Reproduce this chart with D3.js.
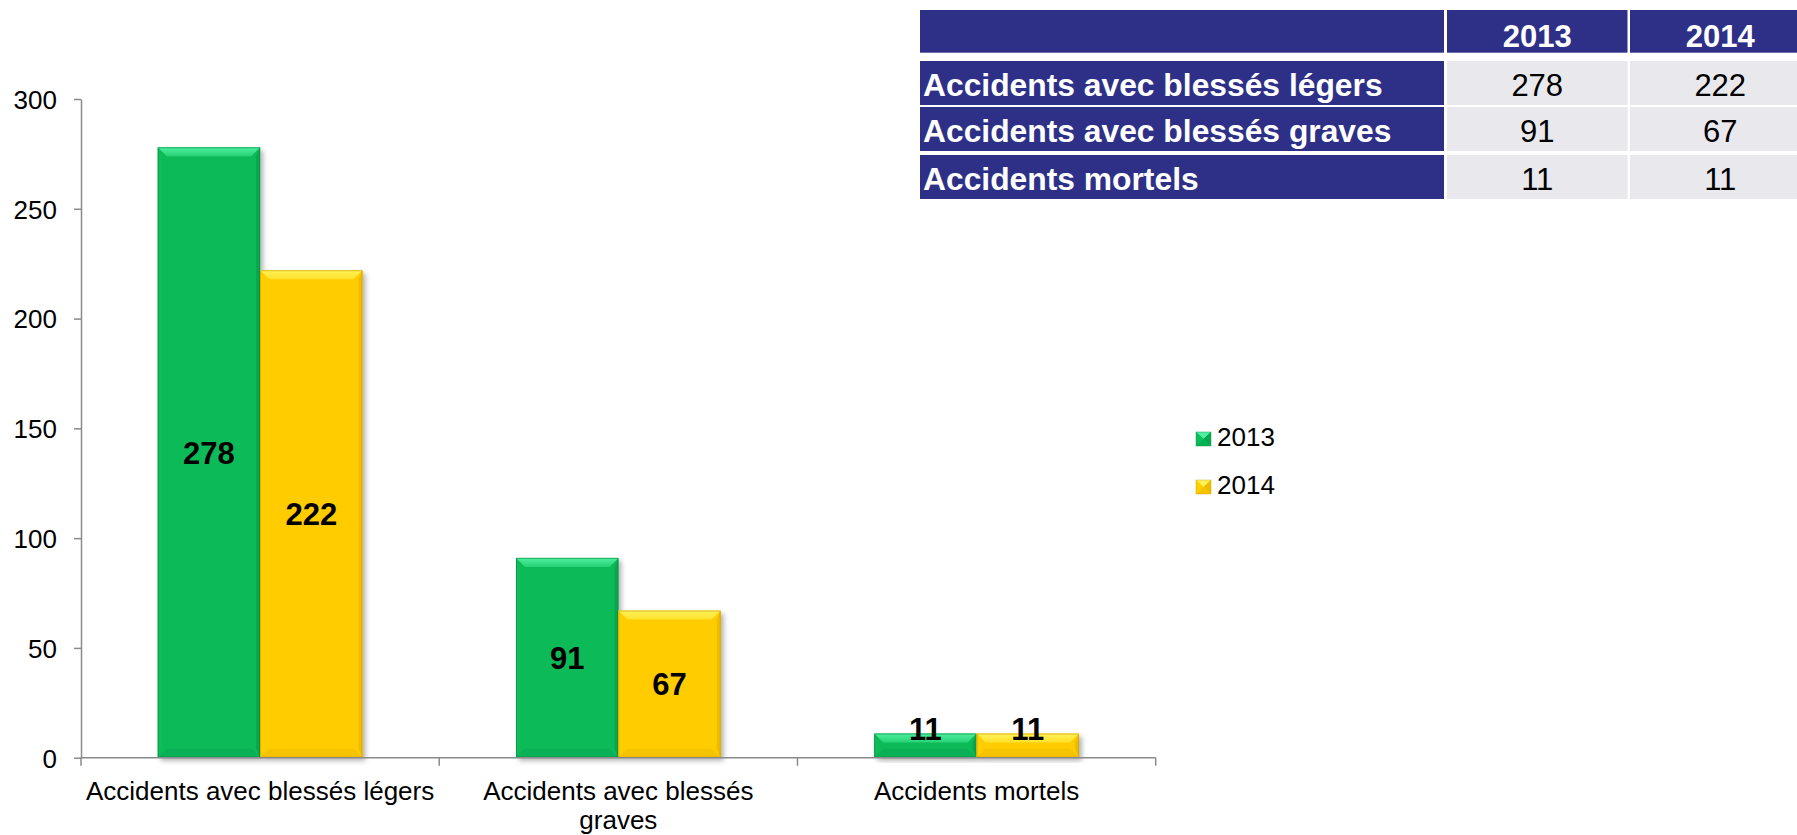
<!DOCTYPE html>
<html>
<head>
<meta charset="utf-8">
<script src="https://cdn.jsdelivr.net/npm/d3@7"></script>
<style>
  body { margin: 0; background: #ffffff; }
  svg { display: block; font-family: "Liberation Sans", Arial, sans-serif; }
</style>
</head>
<body>
<div id="chart"></div>
<script>
const categories = ["Accidents avec blessés légers", "Accidents avec blessés graves", "Accidents mortels"];
const categoryLines = [["Accidents avec blessés légers"], ["Accidents avec blessés", "graves"], ["Accidents mortels"]];
const years = ["2013", "2014"];
const values2013 = [278, 91, 11];
const values2014 = [222, 67, 11];
const yTicks = [0, 50, 100, 150, 200, 250, 300];

const seriesValues = { "2013": values2013, "2014": values2014 };

const palette = {
  "2013": { main: "#0bba58", light: "#4ff0a0", mid: "#26d275", dark: "#07873f", bottom: "#0ab055", left: "#0dbe5b", right: "#0aa650" },
  "2014": { main: "#ffcc00", light: "#fff25a", mid: "#ffe12a", dark: "#c79b00", bottom: "#f5c300", left: "#ffcf00", right: "#efbd00" }
};

const width = 1797;
const height = 835;

const svg = d3.select("#chart")
  .append("svg")
  .attr("width", width)
  .attr("height", height);

const defs = svg.append("defs");

const shadow = defs.append("filter")
  .attr("id", "barShadow")
  .attr("x", "-10%").attr("y", "-10%")
  .attr("width", "130%").attr("height", "130%");
shadow.append("feDropShadow")
  .attr("dx", 3).attr("dy", 3)
  .attr("stdDeviation", 2.5)
  .attr("flood-color", "#000")
  .attr("flood-opacity", 0.3);

years.forEach(yr => {
  const g = defs.append("linearGradient")
    .attr("id", `top-${yr}`)
    .attr("x1", 0).attr("x2", 0).attr("y1", 0).attr("y2", 1);
  g.append("stop").attr("offset", "0%").attr("stop-color", palette[yr].light);
  g.append("stop").attr("offset", "100%").attr("stop-color", palette[yr].mid);
});

// plot area
const plot = { left: 81, right: 1155.7, top: 99, bottom: 757.7 };

const y = d3.scaleLinear()
  .domain([0, 300])
  .range([plot.bottom, plot.top]);

const x0 = d3.scaleBand()
  .domain(categories)
  .range([plot.left, plot.right])
  .padding(0);

const x1 = d3.scaleBand()
  .domain(years)
  .range([0, x0.bandwidth()])
  .paddingInner(0)
  .paddingOuter(0.75);

// y axis
const yAxis = svg.append("g")
  .attr("transform", `translate(${plot.left},0)`)
  .call(d3.axisLeft(y).tickValues(yTicks).tickSize(7).tickPadding(17).tickSizeOuter(0));

yAxis.select(".domain").attr("stroke", "#8a8a8a").attr("stroke-width", 1.5);
yAxis.selectAll(".tick line").attr("stroke", "#8a8a8a").attr("stroke-width", 1.5);
yAxis.selectAll(".tick text")
  .attr("font-size", "26px")
  .attr("font-family", "Liberation Sans, Arial, sans-serif")
  .attr("fill", "#000")
  .attr("dy", "0.36em");

// bars
const rows = [];
categories.forEach((cat, i) => {
  years.forEach(yr => {
    rows.push({ category: cat, year: yr, value: seriesValues[yr][i] });
  });
});

const bars = svg.append("g");

const barGroups = bars.selectAll("g.bar")
  .data(rows)
  .enter()
  .append("g")
  .attr("class", "bar");

barGroups.each(function(d) {
  const g = d3.select(this);
  const bx = x0(d.category) + x1(d.year);
  const bw = x1.bandwidth();
  const by = y(d.value);
  const bh = y(0) - y(d.value);
  const b = Math.min(9, bh / 2);
  const s = Math.min(4, bh / 2);
  const c = palette[d.year];

  g.append("rect")
    .attr("x", bx).attr("y", by)
    .attr("width", bw).attr("height", bh)
    .attr("fill", c.main)
    .attr("filter", "url(#barShadow)");

  // left bevel
  g.append("polygon")
    .attr("points", [[bx, by], [bx + s, by + b], [bx + s, by + bh - b], [bx, by + bh]].join(" "))
    .attr("fill", c.left);

  // right bevel
  g.append("polygon")
    .attr("points", [[bx + bw, by], [bx + bw - s, by + b], [bx + bw - s, by + bh - b], [bx + bw, by + bh]].join(" "))
    .attr("fill", c.right);

  // bottom bevel
  g.append("polygon")
    .attr("points", [[bx, by + bh], [bx + bw, by + bh], [bx + bw - b, by + bh - b], [bx + b, by + bh - b]].join(" "))
    .attr("fill", c.bottom);

  // top bevel (highlight)
  g.append("polygon")
    .attr("points", [[bx, by], [bx + bw, by], [bx + bw - b, by + b], [bx + b, by + b]].join(" "))
    .attr("fill", `url(#top-${d.year})`);

  // outline
  g.append("rect")
    .attr("x", bx + 0.5).attr("y", by + 0.5)
    .attr("width", bw - 1).attr("height", bh - 1)
    .attr("fill", "none")
    .attr("stroke", c.dark)
    .attr("stroke-opacity", 0.6)
    .attr("stroke-width", 1);
});

// data labels
const capHeight = 31 * 0.716;
bars.selectAll("text.value")
  .data(rows)
  .enter()
  .append("text")
  .attr("class", "value")
  .attr("x", d => x0(d.category) + x1(d.year) + x1.bandwidth() / 2)
  .attr("y", d => {
    const centre = (y(d.value) + y(0)) / 2 + capHeight / 2;
    return Math.min(centre, y(0) - 18);
  })
  .attr("text-anchor", "middle")
  .attr("font-size", "31px")
  .attr("font-weight", "700")
  .attr("fill", "#000")
  .text(d => d.value);

// x axis
const xAxis = svg.append("g");
xAxis.append("line")
  .attr("x1", plot.left).attr("x2", plot.right)
  .attr("y1", y(0)).attr("y2", y(0))
  .attr("stroke", "#8a8a8a").attr("stroke-width", 1.5);

const boundaries = categories.map(c => x0(c)).concat([plot.right]);
xAxis.selectAll("line.tick")
  .data(boundaries)
  .enter()
  .append("line")
  .attr("class", "tick")
  .attr("x1", d => d).attr("x2", d => d)
  .attr("y1", y(0)).attr("y2", y(0) + 8)
  .attr("stroke", "#8a8a8a").attr("stroke-width", 1.5);

categories.forEach((cat, i) => {
  const t = xAxis.append("text")
    .attr("x", x0(cat) + x0.bandwidth() / 2)
    .attr("y", y(0) + 42)
    .attr("text-anchor", "middle")
    .attr("font-size", "26px")
    .attr("fill", "#000");
  categoryLines[i].forEach((line, j) => {
    t.append("tspan")
      .attr("x", x0(cat) + x0.bandwidth() / 2)
      .attr("dy", j === 0 ? 0 : 29.5)
      .text(line);
  });
});

// legend
const legend = svg.append("g").attr("transform", "translate(1196, 432)");
years.forEach((yr, i) => {
  const g = legend.append("g").attr("transform", `translate(0, ${i * 48})`);
  const c = palette[yr];
  const s = 15, h = 14, m = 7;
  g.append("rect").attr("width", s).attr("height", h).attr("fill", c.main);
  g.append("polygon").attr("points", [[0, 0], [s, 0], [s / 2, m]].join(" ")).attr("fill", c.light);
  g.append("polygon").attr("points", [[0, h], [s, h], [s / 2, m]].join(" ")).attr("fill", c.bottom);
  g.append("polygon").attr("points", [[0, 0], [0, h], [s / 2, m]].join(" ")).attr("fill", c.left);
  g.append("polygon").attr("points", [[s, 0], [s, h], [s / 2, m]].join(" ")).attr("fill", c.right);
  g.append("rect").attr("width", s).attr("height", h).attr("fill", "none")
    .attr("stroke", c.dark).attr("stroke-opacity", 0.5).attr("stroke-width", 0.8);
  g.append("text")
    .attr("x", 21)
    .attr("y", 14)
    .attr("font-size", "26px")
    .attr("fill", "#000")
    .text(yr);
});

// table
const navy = "#2e3088";
const cellGrey = "#e8e8ed";
const colX = [920, 1447, 1630];
const colW = [524, 180.5, 170];
const headerTop = 10, headerH = 42.7;
const rowTops = [61, 107, 155];
const rowH = 45.5;

const table = svg.append("g");

colX.forEach((cx, j) => {
  table.append("rect")
    .attr("x", cx).attr("y", headerTop)
    .attr("width", colW[j]).attr("height", headerH)
    .attr("fill", navy);
});

years.forEach((yr, j) => {
  table.append("text")
    .attr("x", colX[j + 1] + colW[1] / 2)
    .attr("y", 46.7)
    .attr("text-anchor", "middle")
    .attr("font-size", "31px")
    .attr("font-weight", "700")
    .attr("fill", "#ffffff")
    .text(yr);
});

categories.forEach((cat, i) => {
  const top = rowTops[i];
  table.append("rect")
    .attr("x", colX[0]).attr("y", top)
    .attr("width", colW[0]).attr("height", rowH - 1.5)
    .attr("fill", navy);
  table.append("text")
    .attr("x", colX[0] + 3)
    .attr("y", top + rowH / 2 + 12)
    .attr("font-size", "31.8px")
    .attr("font-weight", "700")
    .attr("fill", "#ffffff")
    .text(cat);

  years.forEach((yr, j) => {
    table.append("rect")
      .attr("x", colX[j + 1]).attr("y", top)
      .attr("width", colW[j + 1]).attr("height", rowH - 1.5)
      .attr("fill", cellGrey);
    table.append("text")
      .attr("x", colX[j + 1] + colW[1] / 2)
      .attr("y", top + rowH / 2 + 12)
      .attr("text-anchor", "middle")
      .attr("font-size", "31px")
      .attr("fill", "#000")
      .text(seriesValues[yr][i]);
  });
});
</script>
</body>
</html>
